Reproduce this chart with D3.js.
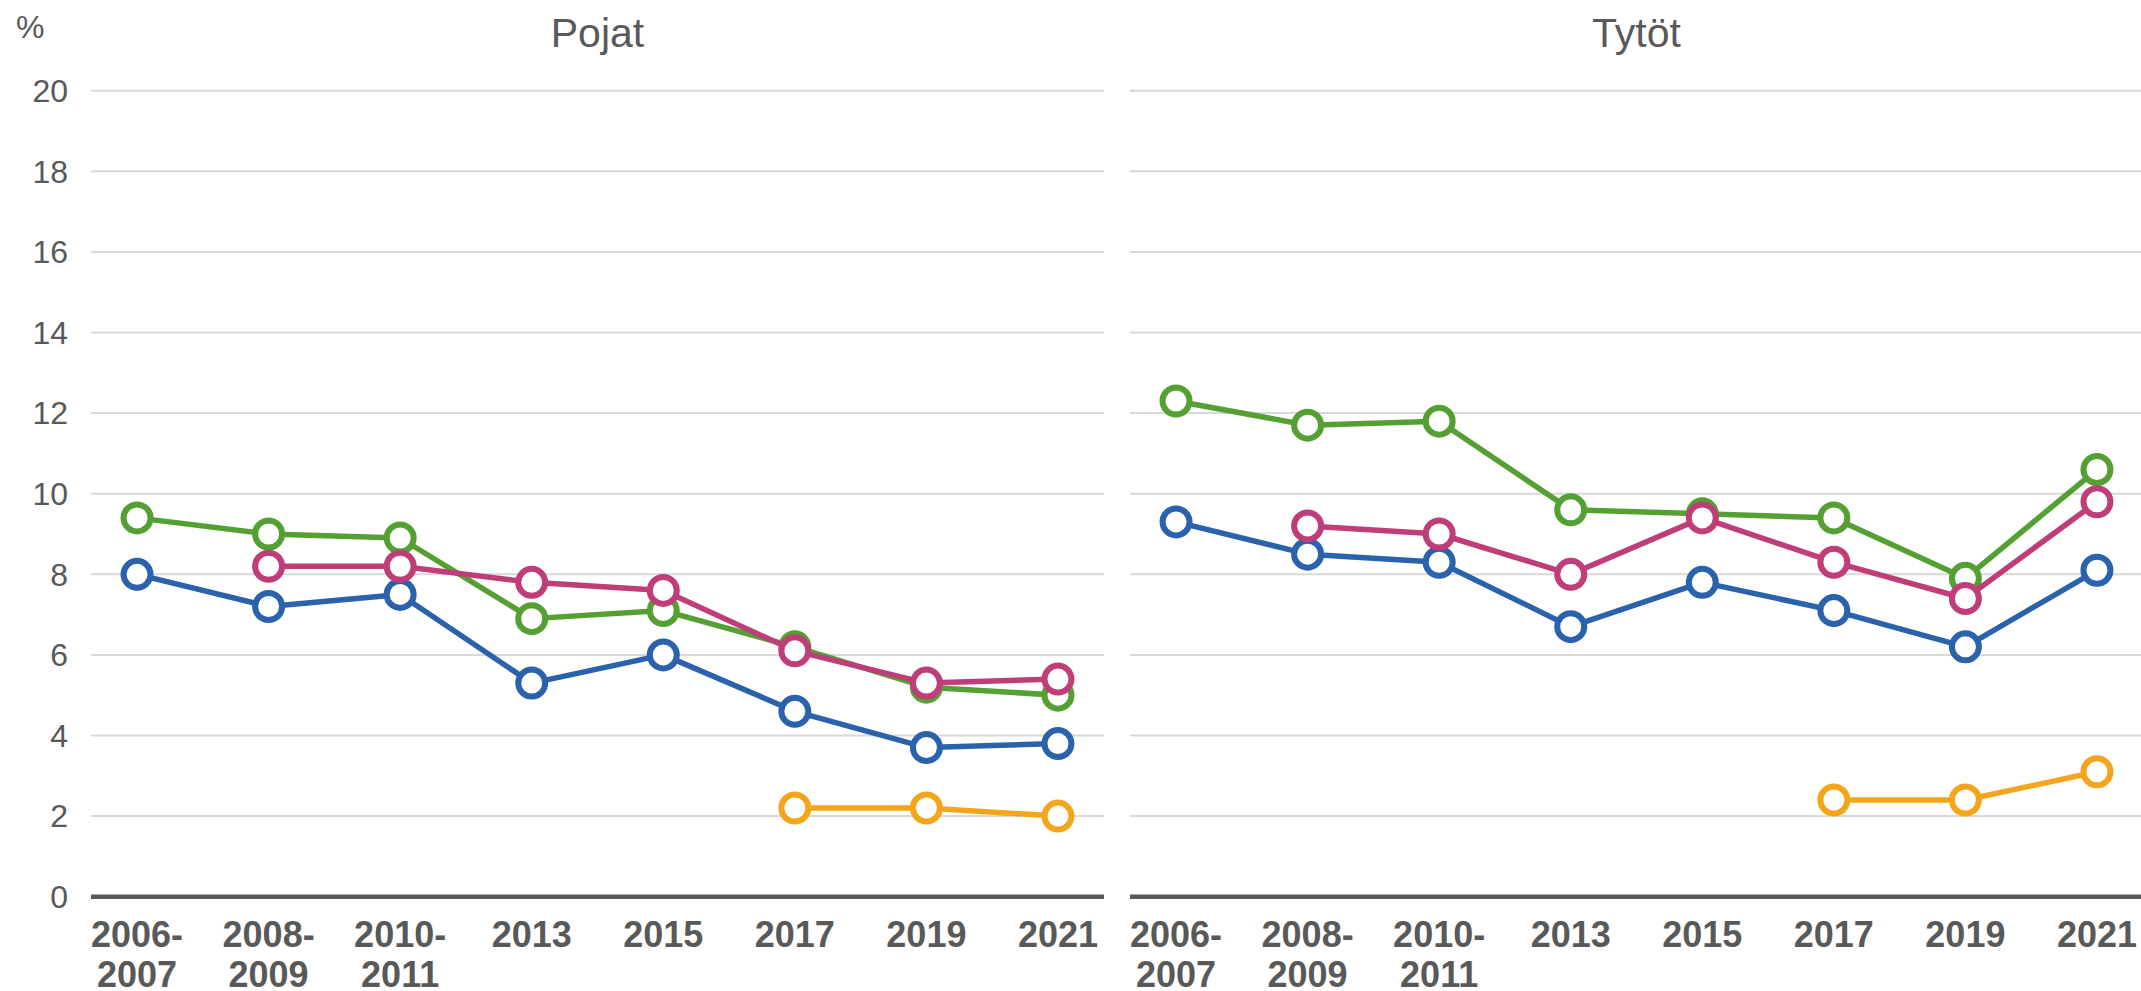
<!DOCTYPE html>
<html>
<head>
<meta charset="utf-8">
<script src="https://cdn.jsdelivr.net/npm/d3@7"></script>
<style>
  html, body { margin: 0; padding: 0; background: #fff; }
  svg { display: block; font-family: "Liberation Sans", Arial, sans-serif; }
</style>
</head>
<body>
<svg id="chart" width="2141" height="991"></svg>
<script>
// categories shared by both panels
const categories = ["2006-2007", "2008-2009", "2010-2011", "2013", "2015", "2017", "2019", "2021"];
const panelTitles = ["Pojat", "Tytöt"];
const yTicks = [0, 2, 4, 6, 8, 10, 12, 14, 16, 18, 20];

// values per series, [boys, girls]; null = no data
const blueValues = [
  [8.0, 7.2, 7.5, 5.3, 6.0, 4.6, 3.7, 3.8],
  [9.3, 8.5, 8.3, 6.7, 7.8, 7.1, 6.2, 8.1]
];
const greenValues = [
  [9.4, 9.0, 8.9, 6.9, 7.1, 6.2, 5.2, 5.0],
  [12.3, 11.7, 11.8, 9.6, 9.5, 9.4, 7.9, 10.6]
];
const pinkValues = [
  [null, 8.2, 8.2, 7.8, 7.6, 6.1, 5.3, 5.4],
  [null, 9.2, 9.0, 8.0, 9.4, 8.3, 7.4, 9.8]
];
const orangeValues = [
  [null, null, null, null, null, 2.2, 2.2, 2.0],
  [null, null, null, null, null, 2.4, 2.4, 3.1]
];

const series = [
  { values: blueValues, color: "#2a62ac" },
  { values: greenValues, color: "#55a032" },
  { values: pinkValues, color: "#bf3d78" },
  { values: orangeValues, color: "#f5a51c" }
];

const svg = d3.select("#chart");
const textColor = "#595959";
const panelOffset = 1039;

const y = d3.scaleLinear().domain([0, 20]).range([896.7, 90.7]);

// "%" unit label
svg.append("text")
  .attr("x", 16).attr("y", 38)
  .attr("font-size", 32).attr("fill", textColor)
  .text("%");

// y tick labels (left panel only)
svg.append("g")
  .selectAll("text")
  .data(yTicks)
  .join("text")
  .attr("x", 68)
  .attr("y", d => y(d))
  .attr("dy", "0.35em")
  .attr("text-anchor", "end")
  .attr("font-size", 32)
  .attr("fill", textColor)
  .text(d => d);

panelTitles.forEach((title, p) => {
  const left = 91 + p * panelOffset;
  const right = 1104 + p * panelOffset;
  const x = d3.scalePoint().domain(categories).range([left, right]).padding(0.35);
  const g = svg.append("g");

  // gridlines
  g.append("g")
    .selectAll("line")
    .data(yTicks.filter(d => d > 0))
    .join("line")
    .attr("x1", left).attr("x2", right)
    .attr("y1", d => y(d)).attr("y2", d => y(d))
    .attr("stroke", "#d9d9d9")
    .attr("stroke-width", 2);

  // zero axis line
  g.append("line")
    .attr("x1", left).attr("x2", right)
    .attr("y1", y(0)).attr("y2", y(0))
    .attr("stroke", textColor)
    .attr("stroke-width", 4.5);

  // panel title
  g.append("text")
    .attr("x", (left + right) / 2)
    .attr("y", 47)
    .attr("text-anchor", "middle")
    .attr("font-size", 41)
    .attr("fill", textColor)
    .text(title);

  // category labels, wrapped after the dash
  const labels = g.append("g")
    .selectAll("text")
    .data(categories)
    .join("text")
    .attr("text-anchor", "middle")
    .attr("font-size", 36)
    .attr("font-weight", "bold")
    .attr("fill", textColor);
  labels.each(function (d) {
    const parts = d.includes("-") ? [d.split("-")[0] + "-", d.split("-")[1]] : [d];
    d3.select(this)
      .selectAll("tspan")
      .data(parts)
      .join("tspan")
      .attr("x", x(d))
      .attr("y", (t, i) => 947 + i * 40)
      .text(t => t);
  });

  const line = d3.line()
    .defined(d => d.v !== null)
    .x(d => x(d.c))
    .y(d => y(d.v));

  series.forEach(s => {
    const pts = categories.map((c, i) => ({ c: c, v: s.values[p][i] }));
    const sg = g.append("g");
    sg.append("path")
      .datum(pts)
      .attr("d", line)
      .attr("fill", "none")
      .attr("stroke", s.color)
      .attr("stroke-width", 5.5)
      .attr("stroke-linejoin", "round");
    sg.selectAll("circle")
      .data(pts.filter(d => d.v !== null))
      .join("circle")
      .attr("cx", d => x(d.c))
      .attr("cy", d => y(d.v))
      .attr("r", 13.5)
      .attr("fill", "#fff")
      .attr("stroke", s.color)
      .attr("stroke-width", 6);
  });
});
</script>
</body>
</html>
